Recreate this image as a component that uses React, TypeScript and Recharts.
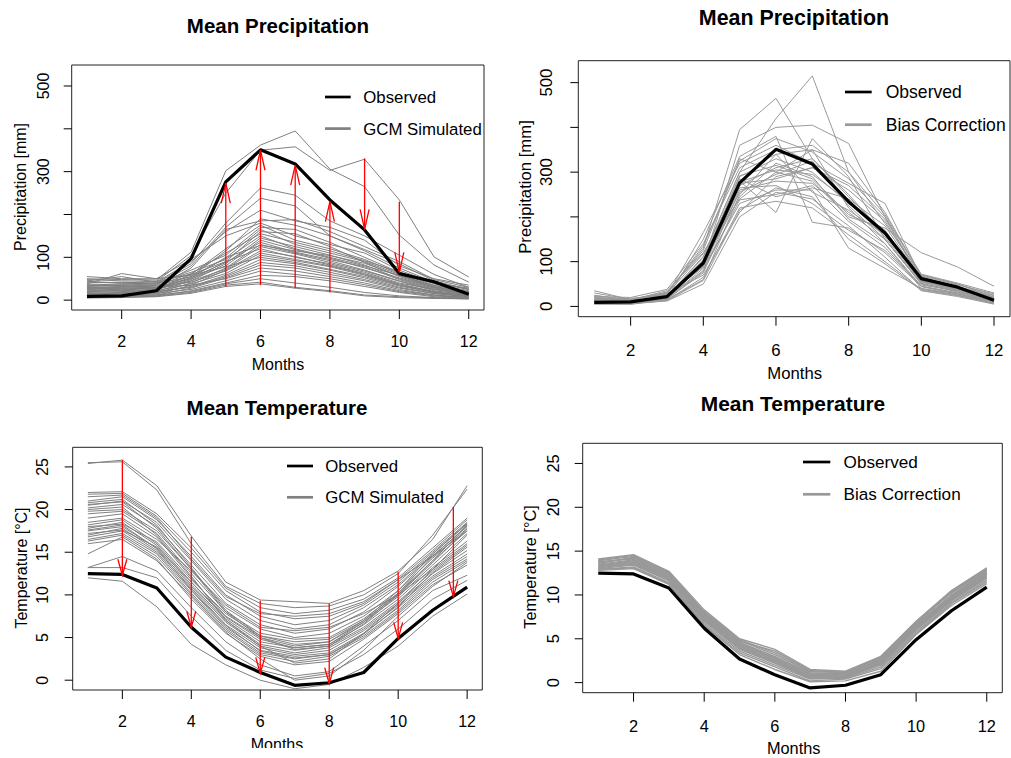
import React from 'react';
import { LineChart, Line, XAxis, YAxis, ReferenceArea, ReferenceLine, Legend } from 'recharts';

const MONTHS = [1, 2, 3, 4, 5, 6, 7, 8, 9, 10, 11, 12];
const X_TICKS = [2, 4, 6, 8, 10, 12];
const PRECIP_TICKS = [0, 100, 200, 300, 400, 500];
const PRECIP_LABELED = [0, 100, 300, 500];
const TEMP_TICKS = [0, 5, 10, 15, 20, 25];

const precipObserved = [9, 10, 22, 97, 276, 351, 318, 234, 164, 62, 43, 14];
const tempObserved = [12.5, 12.4, 10.8, 6.2, 2.7, 0.9, -0.6, -0.3, 0.9, 4.9, 8.2, 10.9];

const precipGcm = [
  [50, 48, 47, 112, 302, 362, 395, 306, 265, 152, 82, 42],
  [42, 40, 44, 104, 250, 350, 358, 303, 329, 234, 101, 54],
  [35, 38, 40, 85, 180, 262, 245, 185, 150, 105, 60, 30],
  [30, 32, 36, 80, 170, 238, 220, 150, 118, 85, 45, 25],
  [45, 55, 42, 90, 160, 210, 185, 170, 140, 80, 50, 35],
  [25, 28, 30, 75, 165, 185, 188, 160, 125, 90, 48, 30],
  [38, 62, 50, 95, 150, 180, 150, 130, 110, 70, 40, 28],
  [20, 22, 25, 60, 120, 175, 140, 120, 95, 62, 35, 20],
  [32, 35, 38, 70, 105, 170, 165, 135, 100, 65, 38, 22],
  [28, 30, 33, 55, 98, 165, 130, 110, 90, 60, 32, 18],
  [18, 20, 24, 48, 90, 160, 155, 125, 88, 55, 30, 15],
  [40, 42, 40, 65, 95, 150, 120, 100, 80, 58, 30, 20],
  [15, 18, 20, 45, 85, 145, 125, 105, 82, 50, 28, 15],
  [22, 25, 28, 50, 80, 140, 118, 98, 75, 52, 30, 18],
  [35, 33, 30, 52, 88, 135, 112, 95, 78, 48, 26, 14],
  [12, 14, 17, 40, 75, 130, 110, 92, 70, 45, 25, 12],
  [26, 28, 26, 45, 72, 125, 108, 88, 68, 44, 22, 12],
  [48, 45, 44, 60, 90, 120, 100, 85, 65, 40, 25, 15],
  [10, 12, 14, 35, 70, 115, 102, 82, 62, 38, 20, 10],
  [30, 28, 30, 42, 68, 110, 95, 80, 60, 36, 20, 10],
  [20, 18, 22, 38, 62, 105, 92, 78, 58, 35, 18, 9],
  [55, 50, 50, 58, 78, 100, 88, 72, 55, 33, 18, 10],
  [14, 16, 18, 32, 58, 95, 85, 70, 52, 30, 16, 8],
  [24, 22, 20, 30, 55, 88, 80, 65, 48, 28, 15, 8],
  [8, 10, 12, 28, 52, 82, 75, 60, 45, 25, 12, 6],
  [36, 34, 30, 35, 50, 75, 68, 55, 40, 22, 12, 6],
  [16, 15, 16, 25, 45, 68, 60, 50, 36, 20, 10, 5],
  [10, 9, 10, 22, 40, 58, 55, 45, 32, 18, 8, 4],
  [6, 7, 9, 18, 35, 42, 30, 22, 12, 8, 5, 3],
  [5, 6, 8, 16, 32, 38, 28, 20, 10, 6, 4, 3],
  [12, 10, 12, 20, 38, 50, 40, 30, 18, 10, 6, 4],
  [44, 40, 38, 55, 115, 190, 175, 150, 115, 75, 42, 25],
  [33, 36, 34, 62, 110, 155, 135, 115, 92, 66, 40, 26],
  [27, 24, 27, 52, 100, 128, 115, 104, 86, 57, 34, 19],
];

const precipBias = [
  [12, 8, 22, 110, 300, 420, 515, 300, 185, 70, 50, 20],
  [35, 15, 30, 130, 395, 465, 330, 250, 160, 60, 40, 15],
  [8, 10, 25, 95, 360, 400, 405, 364, 200, 55, 42, 18],
  [20, 12, 20, 80, 280, 210, 375, 290, 150, 50, 35, 12],
  [10, 6, 18, 150, 335, 380, 188, 175, 120, 45, 30, 10],
  [15, 18, 25, 165, 320, 360, 320, 275, 230, 65, 38, 22],
  [6, 5, 15, 60, 250, 340, 350, 220, 140, 40, 28, 8],
  [25, 14, 35, 120, 240, 300, 280, 200, 175, 120, 88, 45],
  [9, 9, 28, 70, 210, 290, 310, 260, 190, 62, 45, 20],
  [18, 12, 20, 100, 290, 330, 300, 230, 170, 58, 40, 15],
  [7, 7, 12, 50, 200, 255, 240, 180, 110, 35, 22, 5],
  [14, 10, 24, 90, 270, 310, 330, 245, 165, 55, 36, 14],
  [11, 8, 18, 85, 230, 260, 260, 130, 85, 40, 25, 8],
  [22, 20, 38, 140, 310, 350, 360, 300, 205, 70, 50, 25],
  [5, 6, 16, 75, 260, 280, 275, 210, 150, 52, 32, 12],
  [16, 11, 22, 105, 285, 245, 265, 240, 180, 60, 42, 18],
  [30, 16, 32, 125, 330, 300, 350, 320, 210, 68, 48, 28],
  [10, 8, 20, 95, 245, 320, 290, 195, 140, 45, 30, 10],
  [13, 9, 26, 88, 265, 270, 230, 170, 125, 48, 34, 12],
  [19, 13, 22, 112, 300, 340, 255, 215, 160, 56, 38, 16],
  [8, 6, 14, 65, 220, 235, 220, 160, 100, 38, 26, 6],
  [24, 15, 28, 118, 275, 285, 310, 270, 195, 66, 44, 24],
  [12, 10, 19, 92, 255, 295, 325, 225, 150, 50, 36, 15],
  [17, 11, 24, 102, 292, 315, 285, 205, 170, 58, 40, 20],
  [9, 7, 17, 78, 238, 250, 270, 190, 132, 44, 28, 9],
  [21, 14, 30, 135, 325, 375, 345, 285, 200, 72, 52, 30],
  [6, 5, 13, 58, 215, 265, 245, 150, 95, 36, 24, 7],
  [14, 9, 21, 98, 278, 305, 295, 235, 155, 54, 38, 16],
];

const tempGcm = [
  [25.4, 25.8, 22.8, 16.9, 11.5, 9.4, 9.2, 9.0, 10.5, 12.8, 16.5, 22.8],
  [25.5, 25.6, 22.3, 16.0, 11.0, 9.0, 8.5, 8.7, 10.0, 12.5, 17.0, 22.4],
  [22.0, 22.1, 19.5, 15.5, 10.8, 8.5, 7.8, 8.2, 9.5, 12.0, 15.5, 19.0],
  [21.8, 21.9, 19.2, 15.0, 10.5, 8.0, 7.2, 7.5, 9.0, 11.8, 15.2, 18.8],
  [21.0, 21.5, 18.8, 14.5, 10.0, 7.5, 6.5, 7.0, 8.8, 11.5, 15.0, 18.5],
  [20.5, 21.0, 18.5, 14.0, 9.5, 7.0, 6.0, 6.5, 8.5, 11.2, 14.8, 18.3],
  [20.2, 20.6, 18.0, 13.5, 9.0, 6.5, 5.5, 6.0, 8.0, 11.0, 14.6, 18.0],
  [19.8, 20.0, 17.5, 13.0, 8.5, 6.0, 5.0, 5.5, 7.5, 10.5, 14.3, 17.8],
  [19.5, 19.8, 17.2, 12.5, 8.0, 5.5, 4.8, 5.0, 7.2, 10.2, 14.0, 17.5],
  [20.8, 21.2, 18.2, 13.2, 8.2, 5.2, 4.5, 4.8, 7.0, 10.0, 13.8, 17.7],
  [19.0, 19.5, 16.8, 12.0, 7.5, 5.0, 4.0, 4.5, 6.8, 9.8, 13.5, 17.2],
  [18.2, 18.8, 16.0, 11.5, 7.2, 4.5, 3.8, 4.2, 6.5, 9.5, 13.2, 16.3],
  [17.8, 18.5, 15.8, 11.2, 7.0, 4.2, 3.5, 4.0, 6.2, 9.2, 12.8, 15.8],
  [17.5, 18.0, 15.5, 11.0, 6.8, 4.0, 3.2, 3.8, 6.0, 9.0, 12.5, 15.2],
  [17.0, 17.8, 15.2, 10.8, 6.5, 3.8, 3.0, 3.5, 5.8, 8.8, 12.2, 14.8],
  [16.8, 17.5, 15.0, 10.5, 6.2, 3.5, 2.8, 3.2, 5.5, 8.5, 12.0, 14.5],
  [16.5, 17.2, 14.8, 10.2, 6.0, 3.2, 2.5, 3.0, 5.2, 8.2, 11.8, 14.2],
  [16.3, 17.0, 14.5, 10.0, 5.8, 3.0, 2.2, 2.8, 5.0, 8.0, 11.5, 14.0],
  [18.0, 18.3, 16.2, 11.8, 7.8, 5.2, 4.2, 4.5, 7.0, 10.5, 14.8, 18.4],
  [17.2, 17.6, 15.6, 11.5, 7.4, 4.8, 3.8, 4.2, 6.8, 10.2, 14.5, 18.1],
  [20.0, 20.3, 17.0, 12.2, 7.0, 4.0, 2.0, 2.5, 5.5, 9.0, 13.0, 17.0],
  [14.8, 16.8, 14.2, 9.5, 5.5, 2.8, 1.8, 2.2, 4.8, 7.8, 11.2, 13.5],
  [13.2, 14.5, 12.8, 8.5, 4.5, 1.8, 0.5, 1.0, 4.0, 7.0, 10.5, 12.3],
  [13.2, 13.2, 12.0, 7.5, 3.5, 1.2, 0.2, 0.8, 3.0, 6.0, 9.5, 11.7],
  [12.0, 11.6, 8.6, 4.2, 1.8, 0.0, -1.0, -0.5, 1.5, 4.0, 7.5, 10.1],
  [16.0, 16.5, 14.0, 9.8, 5.6, 2.5, 0.0, 0.5, 3.5, 7.5, 11.0, 13.8],
  [21.5, 21.7, 19.0, 14.2, 9.8, 7.8, 7.5, 7.8, 9.2, 11.8, 14.5, 17.5],
  [18.5, 19.0, 16.5, 12.8, 8.8, 6.2, 5.8, 6.2, 7.8, 10.0, 13.0, 16.0],
  [20.6, 20.9, 17.8, 13.0, 8.0, 5.0, 3.6, 4.0, 6.6, 10.0, 14.0, 18.2],
  [17.6, 18.2, 15.4, 10.6, 6.4, 3.4, 2.6, 3.0, 5.4, 8.6, 12.6, 15.6],
];

const tempBias = [
  [14.1, 14.6, 12.7, 8.3, 5.0, 3.8, 1.5, 1.3, 3.0, 7.0, 10.5, 13.1],
  [13.9, 14.4, 12.5, 8.0, 4.8, 3.2, 1.2, 1.2, 2.8, 6.8, 10.3, 12.9],
  [13.7, 14.2, 12.3, 7.8, 4.6, 3.0, 1.0, 1.0, 2.6, 6.6, 10.0, 12.7],
  [13.5, 14.0, 12.1, 7.6, 4.4, 2.8, 0.9, 0.9, 2.5, 6.5, 9.8, 12.5],
  [13.3, 13.8, 11.9, 7.4, 4.2, 2.6, 0.7, 0.8, 2.3, 6.3, 9.6, 12.3],
  [13.2, 13.6, 11.8, 7.2, 4.0, 2.4, 0.6, 0.7, 2.2, 6.2, 9.5, 12.1],
  [13.0, 13.4, 11.6, 7.0, 3.8, 2.2, 0.5, 0.6, 2.0, 6.0, 9.3, 11.9],
  [12.9, 13.2, 11.4, 6.8, 3.6, 2.0, 0.4, 0.5, 1.8, 5.8, 9.1, 11.7],
  [12.8, 13.0, 11.2, 6.5, 3.2, 1.5, 0.1, 0.2, 1.3, 5.5, 8.8, 11.3],
  [13.6, 14.3, 12.4, 7.9, 4.7, 3.6, 1.4, 1.1, 2.9, 6.9, 10.4, 13.0],
  [13.4, 13.9, 12.0, 7.5, 4.3, 2.7, 0.8, 0.9, 2.4, 6.4, 9.7, 12.4],
  [13.1, 13.5, 11.7, 7.1, 3.9, 2.3, 0.5, 0.6, 2.1, 6.1, 9.4, 12.0],
  [12.9, 13.1, 11.3, 6.6, 3.4, 1.8, 0.2, 0.4, 1.6, 5.6, 9.0, 11.5],
  [14.0, 14.5, 12.6, 8.1, 4.9, 3.4, 1.3, 1.2, 2.9, 6.9, 10.2, 12.8],
  [13.8, 14.1, 12.2, 7.7, 4.5, 2.9, 1.1, 1.0, 2.7, 6.7, 9.9, 12.6],
  [13.25, 13.7, 11.85, 7.3, 4.1, 2.5, 0.65, 0.75, 2.25, 6.25, 9.55, 12.2],
];

const precipArrows = [
  { x: 5, from: 31, to: 273 },
  { x: 6, from: 35, to: 350 },
  { x: 7, from: 28, to: 315 },
  { x: 8, from: 18, to: 230 },
  { x: 9, from: 331, to: 165 },
  { x: 10, from: 230, to: 65 },
];

const tempArrows = [
  { x: 2, from: 25.8, to: 12.3 },
  { x: 4, from: 16.8, to: 6.2 },
  { x: 6, from: 9.3, to: 0.8 },
  { x: 8, from: 9.0, to: -0.4 },
  { x: 10, from: 12.7, to: 4.9 },
  { x: 11.6, from: 20.3, to: 9.8 },
];

const FONT = '"Liberation Sans", Arial, Helvetica, sans-serif';
const X_DOMAIN: [number, number] = [0.56, 12.44];
const PRECIP_DOMAIN: [number, number] = [-23, 549];
const TEMP_DOMAIN: [number, number] = [-1.15, 27.3];

function buildRows(obs: number[], sims: number[][]) {
  return MONTHS.map((m, i) => {
    const row: Record<string, number> = { m, obs: obs[i] };
    sims.forEach((s, k) => {
      row['s' + k] = s[i];
    });
    return row;
  });
}

function makeArrow(headLen: number, halfW: number) {
  return (p: any) => {
    const { x1, y1, x2, y2 } = p;
    const dx = x2 - x1;
    const dy = y2 - y1;
    const len = Math.hypot(dx, dy) || 1;
    const ux = dx / len;
    const uy = dy / len;
    const bx = x2 - ux * headLen;
    const by = y2 - uy * headLen;
    const px = -uy * halfW;
    const py = ux * halfW;
    return (
      <g>
        <line x1={x1} y1={y1} x2={x2} y2={y2} stroke="#ff0000" strokeWidth={1.3} />
        <polyline
          points={`${bx + px},${by + py} ${x2},${y2} ${bx - px},${by - py}`}
          fill="none"
          stroke="#ff0000"
          strokeWidth={1.3}
        />
      </g>
    );
  };
}

type PanelCfg = {
  left: number; top: number; width: number; height: number;
  plot: { l: number; t: number; r: number; b: number };
  yDomain: [number, number];
  yTicks: number[];
  yLabeled: number[];
  obs: number[];
  sims: number[][];
  simColor: string;
  simWidth: number;
  arrows: { x: number; from: number; to: number }[];
  headLen: number;
  legend: { x1: number; x2: number; tx: number; y1: number; y2: number; label2: string };
  title: { text: string; cx: number; by: number };
  xTitle: { cx: number; by: number };
  yTitle: { text: string; bx: number; cy: number };
  yTickOff: number;
  xTickOff: number;
  fs: number;
};

function Panel({ c }: { c: PanelCfg }) {
  const rows = buildRows(c.obs, c.sims);
  const xAxisH = 40;
  const tickFs = 16 * c.fs;
  const legFs = 16.8 * c.fs;
  const renderX = (p: any) => (
    <text x={p.x} y={c.plot.b + c.xTickOff} textAnchor="middle" fontSize={tickFs} fontFamily={FONT} fill="#000">
      {p.payload.value}
    </text>
  );
  const renderY = (p: any) => {
    if (!c.yLabeled.includes(p.payload.value)) return <g />;
    const bx = c.plot.l - c.yTickOff;
    return (
      <text x={bx} y={p.y} transform={`rotate(-90, ${bx}, ${p.y})`} textAnchor="middle" fontSize={tickFs} fontFamily={FONT} fill="#000">
        {p.payload.value}
      </text>
    );
  };
  const lg = c.legend;
  const legTop = lg.y1 - 20;
  const legendContent = () => (
    <svg width={240} height={80} style={{ display: 'block' }}>
      <line x1={0} y1={20} x2={lg.x2 - lg.x1} y2={20} stroke="#000" strokeWidth={2.7} />
      <text x={lg.tx - lg.x1} y={20 + 0.358 * legFs} fontSize={legFs} fontFamily={FONT} fill="#000">Observed</text>
      <line x1={0} y1={20 + lg.y2 - lg.y1} x2={lg.x2 - lg.x1} y2={20 + lg.y2 - lg.y1} stroke={c.simColor} strokeWidth={2.7} />
      <text x={lg.tx - lg.x1} y={20 + lg.y2 - lg.y1 + 0.358 * legFs} fontSize={legFs} fontFamily={FONT} fill="#000">{lg.label2}</text>
    </svg>
  );
  return (
    <div style={{ position: 'absolute', left: c.left, top: c.top, width: c.width, height: c.height, overflow: 'hidden' }}>
      <LineChart
        width={c.width}
        height={c.height}
        data={rows}
        margin={{ top: c.plot.t, right: c.width - c.plot.r, bottom: c.height - c.plot.b - xAxisH, left: 0 }}
      >
        <XAxis
          dataKey="m"
          type="number"
          domain={X_DOMAIN}
          ticks={X_TICKS}
          interval={0}
          allowDataOverflow
          axisLine={false}
          tickLine={{ stroke: '#000', strokeWidth: 1 }}
          tickSize={9}
          height={xAxisH}
          tick={renderX}
        />
        <YAxis
          type="number"
          domain={c.yDomain}
          ticks={c.yTicks}
          interval={0}
          allowDataOverflow
          axisLine={false}
          tickLine={{ stroke: '#000', strokeWidth: 1 }}
          tickSize={8}
          width={c.plot.l}
          tick={renderY}
        />
        {c.sims.map((_, k) => (
          <Line
            key={'s' + k}
            dataKey={'s' + k}
            stroke={c.simColor}
            strokeWidth={c.simWidth}
            dot={false}
            activeDot={false}
            isAnimationActive={false}
            strokeLinejoin="round"
          />
        ))}
        <Line
          dataKey="obs"
          stroke="#000"
          strokeWidth={3.2}
          dot={false}
          activeDot={false}
          isAnimationActive={false}
          strokeLinejoin="round"
        />
        {c.arrows.map((a, i) => (
          <ReferenceLine
            key={'a' + i}
            segment={[{ x: a.x, y: a.from }, { x: a.x, y: a.to }]}
            stroke="#ff0000"
            ifOverflow="visible"
            shape={makeArrow(c.headLen, 4.5)}
          />
        ))}
        <ReferenceArea
          x1={X_DOMAIN[0]}
          x2={X_DOMAIN[1]}
          y1={c.yDomain[0]}
          y2={c.yDomain[1]}
          fill="none"
          fillOpacity={0}
          stroke="#222"
          strokeWidth={1}
          ifOverflow="visible"
        />
        <Legend
          layout="vertical"
          align="center"
          verticalAlign="middle"
          wrapperStyle={{ left: lg.x1, top: legTop, width: 240, height: 80 }}
          content={legendContent}
        />
      </LineChart>
      <svg width={c.width} height={c.height} style={{ position: 'absolute', left: 0, top: 0, pointerEvents: 'none' }}>
        <text x={c.title.cx} y={c.title.by} textAnchor="middle" fontSize={20.5 * c.fs} fontWeight="bold" fontFamily={FONT} fill="#000">
          {c.title.text}
        </text>
        <text x={c.xTitle.cx} y={c.xTitle.by} textAnchor="middle" fontSize={16 * c.fs} fontFamily={FONT} fill="#000">
          Months
        </text>
        <text
          x={c.yTitle.bx}
          y={c.yTitle.cy}
          transform={`rotate(-90, ${c.yTitle.bx}, ${c.yTitle.cy})`}
          textAnchor="middle"
          fontSize={16 * c.fs}
          fontFamily={FONT}
          fill="#000"
        >
          {c.yTitle.text}
        </text>
      </svg>
    </div>
  );
}

const panels: PanelCfg[] = [
  {
    left: 0, top: 0, width: 505, height: 380,
    plot: { l: 71.7, t: 65, r: 484, b: 310 },
    yDomain: PRECIP_DOMAIN, yTicks: PRECIP_TICKS, yLabeled: PRECIP_LABELED,
    obs: precipObserved, sims: precipGcm, simColor: '#808080', simWidth: 1,
    arrows: precipArrows, headLen: 20,
    legend: { x1: 325, x2: 350.7, tx: 363.3, y1: 96.7, y2: 128.3, label2: 'GCM Simulated' },
    title: { text: 'Mean Precipitation', cx: 278, by: 33.3 },
    xTitle: { cx: 278, by: 369.7 },
    yTitle: { text: 'Precipitation [mm]', bx: 25.7, cy: 187 },
    yTickOff: 23, xTickOff: 37.4, fs: 1,
  },
  {
    left: 500, top: 0, width: 511, height: 392,
    plot: { l: 78.3, t: 60.7, r: 510, b: 316.7 },
    yDomain: PRECIP_DOMAIN, yTicks: PRECIP_TICKS, yLabeled: PRECIP_LABELED,
    obs: precipObserved, sims: precipBias, simColor: '#9a9a9a', simWidth: 1,
    arrows: [], headLen: 20,
    legend: { x1: 345, x2: 371.7, tx: 385.7, y1: 92.3, y2: 125, label2: 'Bias Correction' },
    title: { text: 'Mean Precipitation', cx: 294, by: 25.3 },
    xTitle: { cx: 294.7, by: 378.7 },
    yTitle: { text: 'Precipitation [mm]', bx: 30.7, cy: 187 },
    yTickOff: 25.9, xTickOff: 39, fs: 1.045,
  },
  {
    left: 0, top: 380, width: 505, height: 368,
    plot: { l: 72.7, t: 67.3, r: 482.3, b: 310 },
    yDomain: TEMP_DOMAIN, yTicks: TEMP_TICKS, yLabeled: TEMP_TICKS,
    obs: tempObserved, sims: tempGcm, simColor: '#808080', simWidth: 1,
    arrows: tempArrows, headLen: 16,
    legend: { x1: 286.7, x2: 312.7, tx: 325, y1: 86, y2: 117.3, label2: 'GCM Simulated' },
    title: { text: 'Mean Temperature', cx: 277, by: 35.3 },
    xTitle: { cx: 277, by: 369.7 },
    yTitle: { text: 'Temperature [°C]', bx: 27.4, cy: 188 },
    yTickOff: 24.3, xTickOff: 37.4, fs: 1,
  },
  {
    left: 500, top: 380, width: 511, height: 378,
    plot: { l: 82.7, t: 63.3, r: 502.3, b: 312.7 },
    yDomain: TEMP_DOMAIN, yTicks: TEMP_TICKS, yLabeled: TEMP_TICKS,
    obs: tempObserved, sims: tempBias, simColor: '#999999', simWidth: 1.4,
    arrows: [], headLen: 16,
    legend: { x1: 302.7, x2: 330, tx: 343.3, y1: 81.7, y2: 114, label2: 'Bias Correction' },
    title: { text: 'Mean Temperature', cx: 293, by: 31.3 },
    xTitle: { cx: 293.7, by: 373.7 },
    yTitle: { text: 'Temperature [°C]', bx: 35.7, cy: 187 },
    yTickOff: 23.7, xTickOff: 39.7, fs: 1.02,
  },
];

export default function App() {
  return (
    <div style={{ position: 'absolute', left: 0, top: 0, width: 1011, height: 758, background: '#fff', overflow: 'hidden' }}>
      {panels.map((c, i) => (
        <Panel key={i} c={c} />
      ))}
    </div>
  );
}
